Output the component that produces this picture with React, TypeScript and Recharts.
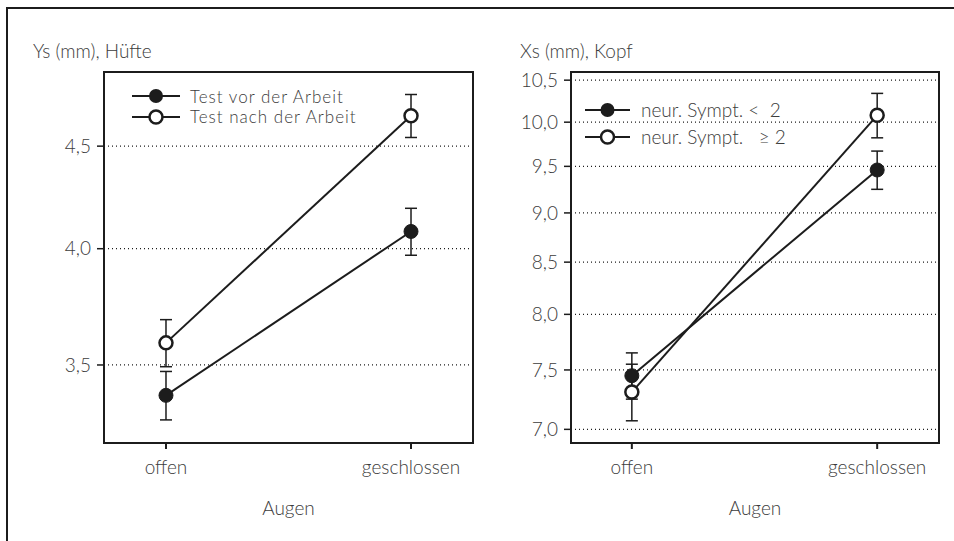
import React from 'react';
import { LineChart, Line, XAxis, YAxis, CartesianGrid, ErrorBar, Legend, ReferenceArea } from 'recharts';

const eyeStates = ['offen', 'geschlossen'];

// Hüfte, Ys in mm
const hipBefore = [3.38, 4.08];
const hipBeforeErr = [0.094, 0.11];
const hipAfter = [3.59, 4.66];
const hipAfterErr = [0.097, 0.115];
const hipTicks = [3.5, 4.0, 4.5];

// Kopf, Xs in mm
const headLow = [7.45, 9.46];
const headLowErr = [0.2, 0.21];
const headHigh = [7.31, 10.08];
const headHighErr = [0.24, 0.26];
const headTicks = [7.0, 7.5, 8.0, 8.5, 9.0, 9.5, 10.0, 10.5];

const INK = '#1c1c1c';
const TEXT = '#3c3c3c';
const FONT = 'Lato, "Open Sans", sans-serif';
const FS = 19;

// x is the index into eyeStates so the axis can be numeric with some air on both sides
const hipData = eyeStates.map((_, i) => ({
  x: i,
  a: hipBefore[i],
  aErr: hipBeforeErr[i],
  b: hipAfter[i],
  bErr: hipAfterErr[i],
}));

const headData = eyeStates.map((_, i) => ({
  x: i,
  a: headLow[i],
  aErr: headLowErr[i],
  b: headHigh[i],
  bErr: headHighErr[i],
}));

const comma = (v: number) => v.toFixed(1).replace('.', ',');

const filledDot = { r: 7, fill: INK, stroke: INK, strokeWidth: 1 };
const openDot = { r: 6.5, fill: '#fff', stroke: INK, strokeWidth: 2.5 };

const tickStyle = { fill: TEXT, fontSize: FS, fontFamily: FONT, fontWeight: 300 };

type LegendItem = { label: string; filled: boolean };

type LegendProps = {
  items: LegendItem[];
  lineW: number;
  rowH: number;
  gap: number;
  fontSize: number;
  spacing: number;
};

const SeriesLegend = ({ items, lineW, rowH, gap, fontSize, spacing }: LegendProps) => (
  <div style={{ fontFamily: FONT, fontWeight: 300, fontSize, letterSpacing: spacing, color: TEXT }}>
    {items.map((it) => (
      <div key={it.label} style={{ display: 'flex', alignItems: 'center', height: rowH }}>
        <svg width={lineW} height={16} style={{ overflow: 'visible' }}>
          <line x1={0} y1={8} x2={lineW} y2={8} stroke={INK} strokeWidth={2} />
          {it.filled ? (
            <circle cx={lineW / 2} cy={8} r={7} fill={INK} />
          ) : (
            <circle cx={lineW / 2} cy={8} r={6.5} fill="#fff" stroke={INK} strokeWidth={2.5} />
          )}
        </svg>
        <span style={{ marginLeft: gap, whiteSpace: 'pre', lineHeight: 1 }}>{it.label}</span>
      </div>
    ))}
  </div>
);

type PanelProps = {
  data: typeof hipData;
  left: number;
  margin: { top: number; right: number; bottom: number; left: number };
  domain: [number, number];
  xDomain: [number, number];
  ticks: number[];
  title: string;
  titleX: number;
  legendItems: LegendItem[];
  legendPos: { top: number; left: number };
  legend: Omit<LegendProps, 'items'>;
};

const Panel = (p: PanelProps) => (
  <div style={{ position: 'absolute', left: p.left, top: 0, width: 477, height: 541 }}>
    <div
      style={{
        position: 'absolute',
        left: p.titleX,
        top: 39,
        fontFamily: FONT,
        fontWeight: 300,
        fontSize: FS,
        color: TEXT,
        whiteSpace: 'nowrap',
      }}
    >
      {p.title}
    </div>
    <LineChart width={477} height={541} data={p.data} margin={p.margin}>
      <CartesianGrid horizontal vertical={false} stroke={INK} strokeDasharray="1 3" strokeWidth={1.2} />
      <XAxis
        dataKey="x"
        type="number"
        domain={p.xDomain}
        allowDataOverflow
        ticks={[0, 1]}
        interval={0}
        tickFormatter={(i: number) => eyeStates[i] ?? ''}
        height={50}
        axisLine={{ stroke: INK, strokeWidth: 2 }}
        tickLine={{ stroke: INK, strokeWidth: 2 }}
        tickSize={6}
        tickMargin={12}
        tick={tickStyle}
        label={{ value: 'Augen', position: 'bottom', offset: 9, ...tickStyle }}
      />
      <YAxis
        type="number"
        scale="log"
        domain={p.domain}
        allowDataOverflow
        ticks={p.ticks}
        interval={0}
        tickFormatter={comma}
        width={60}
        axisLine={{ stroke: INK, strokeWidth: 2 }}
        tickLine={{ stroke: INK, strokeWidth: 1.5 }}
        tickSize={7}
        tickMargin={6}
        tick={tickStyle}
      />
      {/* plot frame */}
      <ReferenceArea
        x1={p.xDomain[0]}
        x2={p.xDomain[1]}
        y1={p.domain[0]}
        y2={p.domain[1]}
        fill="none"
        stroke={INK}
        strokeWidth={2}
        ifOverflow="visible"
      />
      <Legend
        verticalAlign="middle"
        align="center"
        layout="vertical"
        wrapperStyle={{ top: p.legendPos.top, left: p.legendPos.left, width: 'auto' }}
        content={() => <SeriesLegend items={p.legendItems} {...p.legend} />}
      />
      <Line dataKey="a" stroke={INK} strokeWidth={2} dot={filledDot} activeDot={false} isAnimationActive={false}>
        <ErrorBar dataKey="aErr" direction="y" width={6} stroke={INK} strokeWidth={1.5} />
      </Line>
      <Line dataKey="b" stroke={INK} strokeWidth={2} dot={openDot} activeDot={false} isAnimationActive={false}>
        <ErrorBar dataKey="bErr" direction="y" width={6} stroke={INK} strokeWidth={1.5} />
      </Line>
    </LineChart>
  </div>
);

export default function App() {
  return (
    <div style={{ position: 'absolute', left: 0, top: 0, width: 954, height: 541, background: '#fff', overflow: 'hidden' }}>
      <div
        style={{
          position: 'absolute',
          left: 6,
          top: 7,
          right: -4,
          bottom: -4,
          borderTop: `2px solid ${INK}`,
          borderLeft: `2px solid ${INK}`,
        }}
      />
      <Panel
        data={hipData}
        left={0}
        margin={{ top: 72, right: 4, bottom: 48, left: 44 }}
        domain={[3.2, 4.9]}
        xDomain={[-0.253, 1.253]}
        ticks={hipTicks}
        title="Ys (mm), Hüfte"
        titleX={33}
        legendItems={[
          { label: 'Test vor der Arbeit', filled: true },
          { label: 'Test nach der Arbeit', filled: false },
        ]}
        legendPos={{ top: 86, left: 132 }}
        legend={{ lineW: 48, rowH: 20.6, gap: 10, fontSize: 17, spacing: 1 }}
      />
      <Panel
        data={headData}
        left={477}
        margin={{ top: 72, right: 15, bottom: 48, left: 34 }}
        domain={[6.89, 10.6]}
        xDomain={[-0.248, 1.252]}
        ticks={headTicks}
        title="Xs (mm), Kopf"
        titleX={43}
        legendItems={[
          { label: 'neur. Sympt. <  2', filled: true },
          { label: 'neur. Sympt.   ≥ 2', filled: false },
        ]}
        legendPos={{ top: 96, left: 108 }}
        legend={{ lineW: 45, rowH: 27.3, gap: 11, fontSize: 19, spacing: 0 }}
      />
    </div>
  );
}
